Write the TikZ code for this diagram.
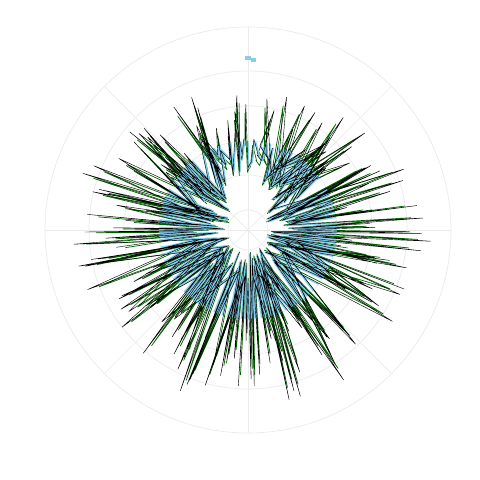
\documentclass[tikz,border=0pt]{standalone}
\usetikzlibrary{calc}
\definecolor{skyblue}{HTML}{87CEEB}
\definecolor{darkgreen}{HTML}{006400}
\tikzset{
  gridline/.style={draw=black!8, line width=0.5pt},
  bluepath/.style={draw=skyblue, line width=1.3pt, line join=round},
  greenpath/.style={draw=darkgreen, line width=0.5pt, line join=round},
  blackpath/.style={draw=black, line width=0.3pt, line join=round},
}
% radius of the zigzag at step #1 (angle #1*1.125)
\def\spiker#1{ifthenelse(isodd(#1), 2.4+2.2*rnd-0.9*pow(max(0,sin(#1*1.125)),4), 0.5+0.9*rnd+0.9*pow(max(0,sin(#1*1.125)),4))}

\begin{document}
\begin{tikzpicture}
		%%%%% START %%%%%
		\useasboundingbox[fill=white] (-6.2, -6.25) rectangle (5.8, 5.75);
		
		% grid
		\foreach \r in {0.5, 1.375, 2.225, 3.1, 3.975, 5.075}
			\draw[gridline] (0, 0) circle (\r);
		\foreach \a in {0, 45, ..., 315}
			\draw[gridline] (0, 0) -- (\a:5.075);
		
		% middle series
		\pgfmathsetseed{4242}
		\draw[greenpath] (0.55:{0.93*\spiker{0}}) \foreach \i in {1, ..., 319} { -- ({\i*1.125+0.55}:{0.93*\spiker{\i}}) } -- cycle;
		
		% inner series
		\begin{scope}
			\clip (0, 0) circle (2.22);
			\pgfmathsetseed{4242}
			\draw[bluepath] (-0.5:{\spiker{0}}) \foreach \i in {1, ..., 319} { -- ({\i*1.125-0.5}:{\spiker{\i}}) } -- cycle;
		\end{scope}
		\fill[skyblue] (-0.075, 4.35) rectangle (0.075, 4.25);
		\fill[skyblue] (0.075, 4.3) rectangle (0.2, 4.2);
		
		% outer series
		\pgfmathsetseed{4242}
		\draw[blackpath] (0:{\spiker{0}}) \foreach \i in {1, ..., 319} { -- ({\i*1.125}:{\spiker{\i}}) } -- cycle;
		
		%%%%% END %%%%%
\end{tikzpicture}
\end{document}
